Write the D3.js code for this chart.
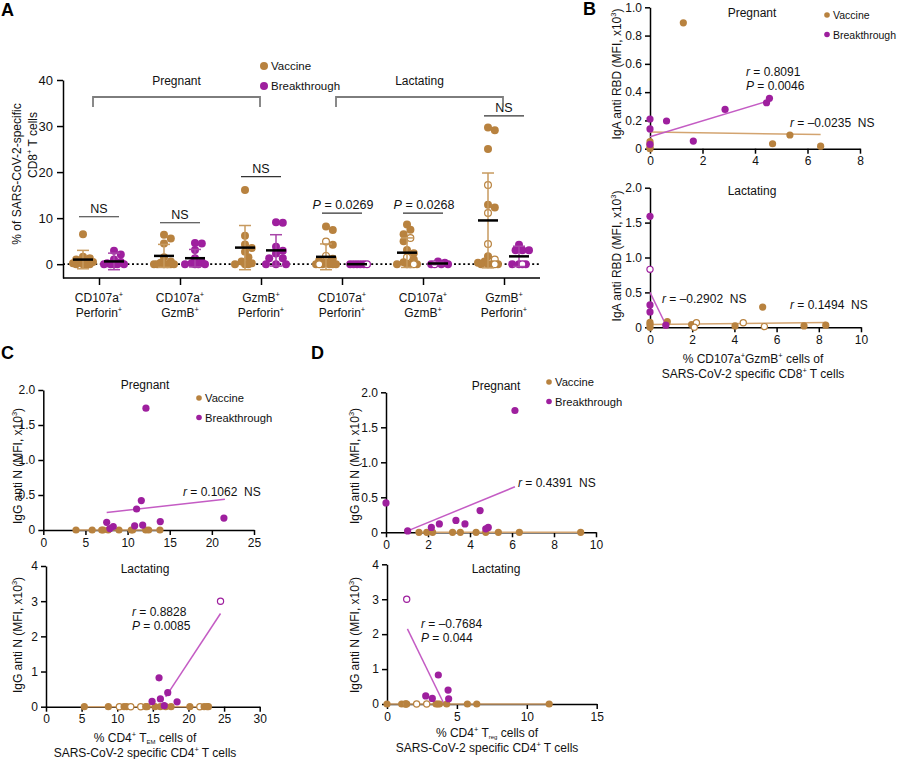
<!DOCTYPE html>
<html><head><meta charset="utf-8">
<script src="https://cdn.jsdelivr.net/npm/d3@7"></script>
<style>body{margin:0;background:#fff} svg{font-family:"Liberation Sans",Arial,Helvetica,sans-serif}</style>
</head><body><svg id="c" width="900" height="759"></svg>
<script>
// ================= DATA =================
const seriesNames = ["Vaccine", "Breakthrough"];
const groupNames = ["Pregnant", "Lactating"];

// Panel A
const aCatLine1 = ["CD107a", "CD107a", "GzmB", "CD107a", "CD107a", "GzmB"];
const aCatLine2 = ["Perforin", "GzmB", "Perforin", "Perforin", "GzmB", "Perforin"];
const aYTicks = [0, 10, 20, 30, 40];
const aVaccineFilled = [
  [6.5, 1.6, 1.3, 1.0, 0.8, 0.5, 0.3, 0.2, 0, 0, 0, 0],
  [6.4, 5.6, 4.5, 1.5, 0.6, 0.3, 0, 0, 0, 0, 0, 0],
  [16.1, 6.2, 4.3, 3.5, 2.7, 1.5, 0.6, 0.2, 0, 0, 0],
  [8.2, 7.4, 4.2, 1.2, 0.8, 0.4, 0, 0, 0, 0, 0],
  [8.6, 7.5, 6.5, 5.0, 3.1, 2.4, 1.0, 0.4, 0, 0, 0, 0],
  [29.7, 29.1, 25.0, 12.9, 12.3, 1.7, 0.6, 0.3, 0, 0, 0, 0]
];
const aVaccineOpen = [[], [], [], [4.9, 1.8, 0], [5.7, 1.5, 0], [17.2, 11.1, 4.4, 1.0, 0]];
const aVaccineMean = [1.0, 1.8, 3.6, 1.6, 2.5, 9.5];
const aVaccineSD = [2.0, 2.5, 4.8, 2.8, 3.2, 10.3];
const aBreakFilled = [
  [2.9, 2.1, 1.0, 0.5, 0.2, 0, 0, 0, 0, 0],
  [4.6, 4.5, 3.1, 1.3, 0.5, 0.2, 0, 0, 0, 0],
  [9.1, 9.0, 3.8, 2.9, 2.3, 1.3, 1.3, 0, 0, 0],
  [0, 0, 0, 0, 0],
  [0.6, 0.3, 0, 0, 0],
  [4.2, 3.0, 3.0, 3.0, 0, 0, 0]
];
const aBreakOpen = [[], [], [], [0], [0], [0]];
const aBreakMean = [0.6, 1.3, 3.0, 0, 0.15, 1.7];
const aBreakSD = [1.8, 1.9, 3.4, 0, 0.25, 2.2];
const aCompareLevel = [10.3, 9.0, 19.0, 11.1, 11.1, 32.2];
const aCompareLabel = ["NS", "NS", "NS", "P = 0.0269", "P = 0.0268", "NS"];

// Panel B (x: % CD107a+GzmB+ of CD8, y: IgA anti RBD)
const bPregVaccine = [[1.27, 0.89], [0, 0.05], [0, 0.03], [0, 0.01], [0, 0], [4.67, 0.035], [5.33, 0.097], [6.5, 0.018]];
const bPregBreak = [[0, 0.21], [0, 0.14], [0.63, 0.196], [1.65, 0.054], [2.86, 0.278], [4.44, 0.325], [4.55, 0.356], [0, 0.03]];
const bPregFitVaccine = [[0, 0.118], [6.5, 0.1]];
const bPregFitBreak = [[0, 0.085], [4.45, 0.335]];
const bLactVaccine = [[0, 0.07], [0, 0.04], [0, 0.0], [0.82, 0.08], [1.97, 0.04], [2.2, 0.066, 1], [2.1, 0.0, 1], [4.03, 0.02], [4.42, 0.066, 1], [5.34, 0.29], [5.42, 0.01, 1], [7.3, 0.02], [8.33, 0.03]];
const bLactBreak = [[0, 1.59], [0, 0.83, 1], [0, 0.32], [0, 0.22], [0.75, 0.03]];
const bLactFitVaccine = [[0, 0.04], [8.35, 0.07]];
const bLactFitBreak = [[0, 0.5], [0.76, 0.03]];

// Panel C (x: % CD4+ TEM, y: IgG anti N)
const cPregVaccine = [[3.88, 0], [5.8, 0], [6.93, 0], [7.1, 0], [7.7, 0], [8.98, 0], [10.44, 0], [10.6, 0], [12.15, 0], [12.5, 0], [13.84, 0]];
const cPregBreak = [[12.18, 1.74], [11.63, 0.42], [11.07, 0.3], [7.52, 0.11], [8.3, 0.05], [10.84, 0.06], [11.79, 0.07], [13.88, 0.12], [21.43, 0.17], [7.9, 0.02]];
const cPregFitVaccine = [[3.88, 0], [13.84, 0]];
const cPregFitBreak = [[7.52, 0.25], [21.55, 0.44]];
const cLactVaccine = [[5.38, 0], [8.75, 0], [10.3, 0, 1], [10.96, 0], [11.33, 0], [11.9, 0, 1], [13.3, 0, 1], [14.0, 0], [14.2, 0], [15.3, 0], [16.05, 0], [16.8, 0], [17.56, 0], [20.2, 0], [21.6, 0, 1], [22.2, 0], [22.6, 0], [22.8, 0]];
const cLactBreak = [[24.5, 3.0, 1], [15.87, 0.82], [17.09, 0.4], [16.06, 0.22], [14.89, 0.15], [18.4, 0.14], [16.6, 0.03]];
const cLactFitVaccine = [[5.38, 0], [22.8, 0]];
const cLactFitBreak = [[16.8, 0.28], [24.5, 2.65]];

// Panel D (x: % CD4+ Treg, y: IgG anti N)
const dPregVaccine = [[1.57, 0], [1.94, 0], [2.22, 0], [3.17, 0], [3.54, 0], [4.29, 0], [4.75, 0], [5.35, 0], [6.35, 0], [9.27, 0]];
const dPregBreak = [[0, 0.42], [1.03, 0.02], [2.16, 0.07], [2.54, 0.12], [3.33, 0.17], [3.76, 0.12], [4.48, 0.31], [4.75, 0.05], [4.87, 0.07], [6.14, 1.74]];
const dPregFitVaccine = [[1.57, 0], [9.27, 0]];
const dPregFitBreak = [[1.03, 0.02], [6.14, 0.65]];
const dLactVaccine = [[0, 0], [1.05, 0], [1.29, 0], [1.36, 0, 1], [1.41, 0], [2.12, 0, 1], [2.84, 0, 1], [3.51, 0], [3.63, 0], [3.75, 0], [4.27, 0], [5.75, 0], [6.42, 0], [11.6, 0]];
const dLactBreak = [[1.41, 3.0, 1], [3.67, 0.83], [4.37, 0.4], [2.77, 0.23], [3.24, 0.16], [4.41, 0.15]];
const dLactFitVaccine = [[0, 0], [11.6, 0]];
const dLactFitBreak = [[1.46, 2.15], [4.08, 0]];

// ================= DRAWING =================
const COL = {vac: "#B8823F", brk: "#9E1F9E", vacLine: "#D3A470", brkLine: "#C45CC4", vacErr: "#C79A5F", brkErr: "#A845A8", bracket: "#7d7d7d"};
const svg = d3.select("#c");
const FS = 12;

function rich(parent, x, y, segs, opt = {}) {
  const size = opt.size || FS;
  const t = parent.append("text").attr("x", x).attr("y", y).attr("font-size", size)
    .attr("text-anchor", opt.anchor || "middle").attr("fill", "#111");
  if (opt.rotate != null) t.attr("transform", `rotate(${opt.rotate},${x},${y})`);
  if (opt.weight) t.attr("font-weight", opt.weight);
  let shift = 0;
  segs.forEach(s => {
    if (typeof s === "string") s = {t: s};
    const sp = t.append("tspan").text(s.t);
    const target = s.sup ? -size * 0.4 : s.sub ? size * 0.2 : 0;
    const dy = target - shift;
    if (dy) sp.attr("dy", dy);
    shift = target;
    if (s.sup) sp.attr("font-size", size * 0.62);
    if (s.sub) sp.attr("font-size", size * 0.5);
    if (s.it) sp.attr("font-style", "italic");
  });
  return t;
}
function styleAxis(g) {
  g.selectAll(".domain").attr("stroke", "#000").attr("stroke-width", 1.5);
  g.selectAll(".tick line").attr("stroke", "#000").attr("stroke-width", 1.5);
  g.selectAll(".tick text").attr("font-size", FS).attr("fill", "#111")
    .attr("font-family", '"Liberation Sans",Arial,sans-serif');
}

// Panel letters
[["A", 1, 16], ["B", 583, 15], ["C", 1, 359], ["D", 311, 359]].forEach(([l, x, y]) =>
  svg.append("text").attr("x", x).attr("y", y).attr("font-size", 18).attr("font-weight", "bold").attr("fill", "#000").text(l));

// ---------- Panel A ----------
(function () {
  const g = svg.append("g");
  const x = d3.scalePoint().domain(d3.range(aCatLine1.length)).range([99, 504]);
  const y = d3.scaleLinear().domain([-3, 40]).range([278, 80]);
  const left = 63, right = 540;
  const ya = g.append("g").attr("transform", `translate(${left},0)`)
    .call(d3.axisLeft(y).tickValues(aYTicks).tickSize(6).tickSizeOuter(0).tickPadding(4));
  styleAxis(ya);
  ya.selectAll(".tick text").attr("font-size", 13);
  g.append("line").attr("x1", left).attr("x2", right).attr("y1", y(-3)).attr("y2", y(-3)).attr("stroke", "#000").attr("stroke-width", 1.5);
  const xa = g.append("g").attr("transform", `translate(0,${y(-3)})`)
    .call(d3.axisBottom(x).tickSize(7).tickSizeOuter(0).tickFormat(""));
  xa.select(".domain").remove();
  styleAxis(xa);
  aCatLine1.forEach((c, i) => {
    rich(g, x(i), 302, [c, {t: "+", sup: true}]);
    rich(g, x(i), 317, [aCatLine2[i], {t: "+", sup: true}]);
  });
  // y label
  rich(g, 21, 174, ["% of SARS-CoV-2-specific"], {rotate: -90});
  rich(g, 37, 145, ["CD8", {t: "+", sup: true}, " T cells"], {rotate: -90});
  // zero dotted line
  g.append("line").attr("x1", left).attr("x2", right).attr("y1", y(0)).attr("y2", y(0))
    .attr("stroke", "#000").attr("stroke-width", 1.8).attr("stroke-dasharray", "2,2.6");

  const r = 4;
  const offsets = [0, 3.4, -3.4, 6.8, -6.8, 10, -10];
  function swarm(vals, cx) {
    const sorted = vals.slice().sort((a, b) => b.v - a.v);
    const placed = [];
    sorted.forEach(d => {
      const py = y(d.v);
      let best = 0, bestScore = -1;
      for (const off of offsets) {
        const md = placed.length ? d3.min(placed, p => Math.hypot(p.dx - off, p.py - py)) : 99;
        if (md >= r * 1.5) { best = off; break; }
        if (md > bestScore) { bestScore = md; best = off; }
      }
      placed.push({...d, dx: best, py, cx});
    });
    return placed;
  }
  function drawGroup(filled, open, mean, sd, cx, col, errCol) {
    const vals = filled.map(v => ({v, open: false})).concat(open.map(v => ({v, open: true})));
    const pts = swarm(vals, cx);
    g.selectAll(null).data(pts).enter().append("circle")
      .attr("cx", d => d.cx + d.dx).attr("cy", d => d.py).attr("r", d => d.open ? r - 0.6 : r)
      .attr("fill", d => d.open ? "#fff" : col).attr("stroke", col).attr("stroke-width", d => d.open ? 1.2 : 0);
    if (sd > 0) {
      const y1 = y(mean + sd), y2 = y(mean - sd);
      g.append("line").attr("x1", cx).attr("x2", cx).attr("y1", y1).attr("y2", y2).attr("stroke", errCol).attr("stroke-width", 1.5);
      [y1, y2].forEach(yy => g.append("line").attr("x1", cx - 6).attr("x2", cx + 6).attr("y1", yy).attr("y2", yy).attr("stroke", errCol).attr("stroke-width", 1.5));
    }
    g.append("line").attr("x1", cx - 10).attr("x2", cx + 10).attr("y1", y(mean)).attr("y2", y(mean)).attr("stroke", "#000").attr("stroke-width", 2.5);
  }
  aCatLine1.forEach((c, i) => {
    drawGroup(aVaccineFilled[i], aVaccineOpen[i], aVaccineMean[i], aVaccineSD[i], x(i) - 16, COL.vac, COL.vacErr);
    drawGroup(aBreakFilled[i], aBreakOpen[i], aBreakMean[i], aBreakSD[i], x(i) + 15, COL.brk, COL.brkErr);
    const ly = y(aCompareLevel[i]);
    g.append("line").attr("x1", x(i) - 20).attr("x2", x(i) + 20).attr("y1", ly).attr("y2", ly).attr("stroke", "#333").attr("stroke-width", 1.2);
    const lab = aCompareLabel[i];
    if (lab.startsWith("P")) rich(g, x(i) + 1, ly - 4, [{t: "P", it: true}, lab.slice(1)], {size: 12.5});
    else rich(g, x(i), ly - 4, [lab], {size: 12.5});
  });
  // group brackets
  [[0, 2, groupNames[0]], [3, 5, groupNames[1]]].forEach(([a, b, name]) => {
    const x1 = x(a) - 6, x2 = x(b) - 1;
    g.append("path").attr("d", `M${x1},107V97H${x2}V107`).attr("fill", "none").attr("stroke", COL.bracket).attr("stroke-width", 1.8);
    rich(g, (x1 + x2) / 2, 85, [name]);
  });
  // legend
  seriesNames.forEach((s, i) => {
    g.append("circle").attr("cx", 264).attr("cy", 66 + i * 20).attr("r", 4).attr("fill", i ? COL.brk : COL.vac);
    rich(g, 271, 70 + i * 20, [s], {anchor: "start", size: 11.5});
  });
})();

// ---------- Scatter panels ----------
function drawScatter(o) {
  const g = svg.append("g");
  const x = d3.scaleLinear().domain(o.xDomain).range([o.left, o.right]);
  const y = d3.scaleLinear().domain(o.yDomain).range([o.bottom, o.top]);
  const xa = g.append("g").attr("transform", `translate(0,${o.bottom})`)
    .call(d3.axisBottom(x).tickValues(o.xTicks).tickSize(5).tickSizeOuter(0).tickPadding(3).tickFormat(d3.format("d")));
  styleAxis(xa);
  const ya = g.append("g").attr("transform", `translate(${o.left},0)`)
    .call(d3.axisLeft(y).tickValues(o.yTicks).tickSize(5).tickSizeOuter(0).tickPadding(3).tickFormat(o.yFmt));
  styleAxis(ya);
  // y label
  rich(g, o.yLabelX + 4, o.yLabelY, o.yLabel, {rotate: -90});
  if (o.xLabel) {
    rich(g, o.xLabelX, o.xLabelY, o.xLabel[0]);
    rich(g, o.xLabelX, o.xLabelY + 14.5, o.xLabel[1]);
  }
  rich(g, o.titleX, o.titleY, [o.title]);
  const line = d3.line().x(d => x(d[0])).y(d => y(d[1]));
  g.append("path").attr("d", line(o.fitVac)).attr("stroke", COL.vacLine).attr("stroke-width", 1.5).attr("fill", "none");
  g.append("path").attr("d", line(o.fitBrk)).attr("stroke", COL.brkLine).attr("stroke-width", 1.5).attr("fill", "none");
  const r = 3.6;
  [[o.vac, COL.vac], [o.brk, COL.brk]].forEach(([pts, col]) => {
    g.selectAll(null).data(pts).enter().append("circle")
      .attr("cx", d => x(d[0])).attr("cy", d => y(d[1])).attr("r", d => d[2] ? r - 0.5 : r)
      .attr("fill", d => d[2] ? "#fff" : col).attr("stroke", col).attr("stroke-width", d => d[2] ? 1.2 : 0);
  });
  o.notes.forEach(n => {
    const segs = [{t: n.k, it: true}, " = " + n.v];
    if (n.ns) segs.push("\u00a0\u00a0NS");
    rich(g, n.x, n.y, segs, {anchor: "start"});
  });
  if (o.legend) {
    seriesNames.forEach((s, i) => {
      g.append("circle").attr("cx", o.legend[0]).attr("cy", o.legend[1] + i * 19.5).attr("r", 2.8).attr("fill", i ? COL.brk : COL.vac);
      rich(g, o.legend[0] + 6, o.legend[1] + 4.2 + i * 19.5, [s], {anchor: "start", size: o.legendSize || 11.2});
    });
  }
}
const f1 = d3.format(".1f");
const fy = d => d === 0 ? "0" : f1(d);
const fInt = d3.format("d");
const igaLabel = ["IgA anti RBD (MFI, x10", {t: "3", sup: true}, ")"];
const iggLabel = ["IgG anti N (MFI, x10", {t: "3", sup: true}, ")"];

drawScatter({left: 650, right: 860, top: 7.3, bottom: 148.7, xDomain: [0, 8], yDomain: [0, 1.0],
  xTicks: [0, 2, 4, 6, 8], yTicks: [0, 0.2, 0.4, 0.6, 0.8, 1.0], yFmt: fy,
  yLabel: igaLabel, yLabelX: 617, yLabelY: 74, title: groupNames[0], titleX: 752, titleY: 17,
  vac: bPregVaccine, brk: bPregBreak, fitVac: bPregFitVaccine, fitBrk: bPregFitBreak,
  notes: [{k: "r", v: "0.8091", x: 746, y: 76}, {k: "P", v: "0.0046", x: 746, y: 90}, {k: "r", v: "–0.0235", ns: true, x: 790, y: 127}],
  legend: [827, 15], legendSize: 10.5});
drawScatter({left: 650, right: 861, top: 187.7, bottom: 327.3, xDomain: [0, 10], yDomain: [0, 2.0],
  xTicks: [0, 2, 4, 6, 8, 10], yTicks: [0, 0.5, 1.0, 1.5, 2.0], yFmt: fy,
  yLabel: igaLabel, yLabelX: 617, yLabelY: 256, title: groupNames[1], titleX: 752, titleY: 195,
  xLabel: [["% CD107a", {t: "+", sup: true}, "GzmB", {t: "+", sup: true}, " cells of"], ["SARS-CoV-2 specific CD8", {t: "+", sup: true}, " T cells"]],
  xLabelX: 753, xLabelY: 363,
  vac: bLactVaccine, brk: bLactBreak, fitVac: bLactFitVaccine, fitBrk: bLactFitBreak,
  notes: [{k: "r", v: "–0.2902", ns: true, x: 662, y: 303}, {k: "r", v: "0.1494", ns: true, x: 790, y: 309}]});
drawScatter({left: 43.3, right: 254, top: 390, bottom: 530, xDomain: [0, 25], yDomain: [0, 2.0],
  xTicks: [0, 5, 10, 15, 20, 25], yTicks: [0, 0.5, 1.0, 1.5, 2.0], yFmt: fy,
  yLabel: iggLabel, yLabelX: 18, yLabelY: 466, title: groupNames[0], titleX: 145, titleY: 389,
  vac: cPregVaccine, brk: cPregBreak, fitVac: cPregFitVaccine, fitBrk: cPregFitBreak,
  notes: [{k: "r", v: "0.1062", ns: true, x: 183, y: 496}],
  legend: [199, 398]});
drawScatter({left: 46, right: 259.7, top: 566, bottom: 706.7, xDomain: [0, 30], yDomain: [0, 4],
  xTicks: [0, 5, 10, 15, 20, 25, 30], yTicks: [0, 1, 2, 3, 4], yFmt: fInt,
  yLabel: iggLabel, yLabelX: 18, yLabelY: 635, title: groupNames[1], titleX: 145, titleY: 573,
  xLabel: [["% CD4", {t: "+", sup: true}, " T", {t: "EM", sub: true}, " cells of"], ["SARS-CoV-2 specific CD4", {t: "+", sup: true}, " T cells"]],
  xLabelX: 145, xLabelY: 742,
  vac: cLactVaccine, brk: cLactBreak, fitVac: cLactFitVaccine, fitBrk: cLactFitBreak,
  notes: [{k: "r", v: "0.8828", x: 132, y: 616}, {k: "P", v: "0.0085", x: 132, y: 630}]});
drawScatter({left: 386, right: 596, top: 392.3, bottom: 532.3, xDomain: [0, 10], yDomain: [0, 2.0],
  xTicks: [0, 2, 4, 6, 8, 10], yTicks: [0, 0.5, 1.0, 1.5, 2.0], yFmt: fy,
  yLabel: iggLabel, yLabelX: 355, yLabelY: 466, title: groupNames[0], titleX: 496, titleY: 390,
  vac: dPregVaccine, brk: dPregBreak, fitVac: dPregFitVaccine, fitBrk: dPregFitBreak,
  notes: [{k: "r", v: "0.4391", ns: true, x: 518, y: 487}],
  legend: [549, 382]});
drawScatter({left: 387, right: 596.7, top: 564.3, bottom: 704, xDomain: [0, 15], yDomain: [0, 4],
  xTicks: [0, 5, 10, 15], yTicks: [0, 1, 2, 3, 4], yFmt: fInt,
  yLabel: iggLabel, yLabelX: 355, yLabelY: 635, title: groupNames[1], titleX: 496, titleY: 573,
  xLabel: [["% CD4", {t: "+", sup: true}, " T", {t: "reg", sub: true}, " cells of"], ["SARS-CoV-2 specific CD4", {t: "+", sup: true}, " T cells"]],
  xLabelX: 487, xLabelY: 737,
  vac: dLactVaccine, brk: dLactBreak, fitVac: dLactFitVaccine, fitBrk: dLactFitBreak,
  notes: [{k: "r", v: "–0.7684", x: 421, y: 628}, {k: "P", v: "0.044", x: 421, y: 642}]});
</script></body></html>
